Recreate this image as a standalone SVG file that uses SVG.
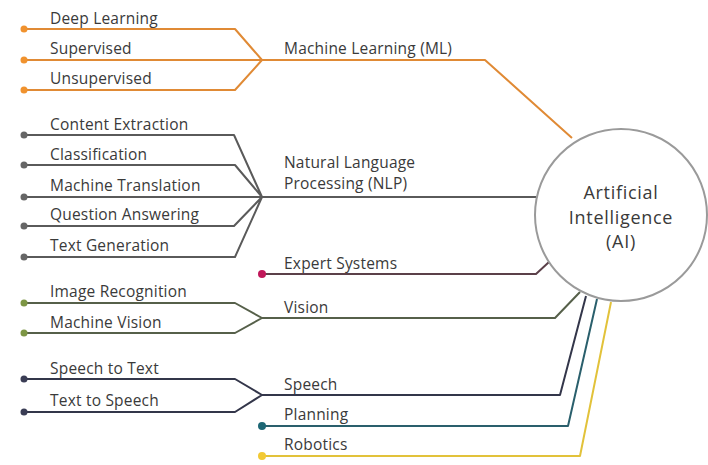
<svg xmlns="http://www.w3.org/2000/svg" width="708" height="465" viewBox="0 0 708 465">
<style>
text{font-family:"Open Sans","Noto Sans",sans-serif;font-size:15.5px;letter-spacing:0.2px;fill:#3a3a3a}
.c{fill:none;stroke-width:2;stroke-linejoin:round}
.ml{stroke:#e08a35}
.nlp{stroke:#5a5a5a}
.ex{stroke:#5b4049}
.vi{stroke:#56604a}
.sp{stroke:#33364a}
.pl{stroke:#2a5f6c}
.ro{stroke:#e2c23a}
.ai{font-size:18px;letter-spacing:0.7px;fill:#3a3a3a}
</style>
<rect width="708" height="465" fill="#ffffff"/>
<g id="connectors">
<path class="c ml" d="M24,29H235L262,60M24,60H262M24,90H235L262,60M262,60H485L572,138"/>
<path class="c nlp" d="M24,135H234L262,197M24,165H235L262,197M24,197H262M24,226H234L262,197M24,257H235L262,197M262,197H536"/>
<path class="c ex" d="M262,274H536L549,262"/>
<path class="c vi" d="M24,303H235L262,318M24,333H235L262,318M262,318H555L580,292"/>
<path class="c sp" d="M24,379H235L262,395M24,412H235L262,395M262,395H560L586,296"/>
<path class="c pl" d="M262,426H568L597,299"/>
<path class="c ro" d="M262,456H580L611,302"/>
</g>
<g id="leaf-dots">
<circle cx="24" cy="29" r="3.5" fill="#f0922e"/>
<circle cx="24" cy="60" r="3.5" fill="#f0922e"/>
<circle cx="24" cy="90" r="3.5" fill="#f0922e"/>
<circle cx="24" cy="135" r="3.5" fill="#666"/>
<circle cx="24" cy="165" r="3.5" fill="#666"/>
<circle cx="24" cy="197" r="3.5" fill="#666"/>
<circle cx="24" cy="226" r="3.5" fill="#666"/>
<circle cx="24" cy="257" r="3.5" fill="#666"/>
<circle cx="24" cy="303" r="3.5" fill="#7d9645"/>
<circle cx="24" cy="333" r="3.5" fill="#7d9645"/>
<circle cx="24" cy="379" r="3.5" fill="#3a3d55"/>
<circle cx="24" cy="412" r="3.5" fill="#3a3d55"/>
</g>
<g id="ml"><text x="284" y="54">Machine Learning (ML)</text></g>
<g id="deep-learning"><text x="50" y="24">Deep Learning</text></g>
<g id="supervised"><text x="50" y="54">Supervised</text></g>
<g id="unsupervised"><text x="50" y="84">Unsupervised</text></g>
<g id="nlp"><text x="284" y="168">Natural Language</text><text x="284" y="189">Processing (NLP)</text></g>
<g id="content-extraction"><text x="50" y="130">Content Extraction</text></g>
<g id="classification"><text x="50" y="160">Classification</text></g>
<g id="machine-translation"><text x="50" y="191">Machine Translation</text></g>
<g id="question-answering"><text x="50" y="220">Question Answering</text></g>
<g id="text-generation"><text x="50" y="251">Text Generation</text></g>
<g id="expert-systems"><circle cx="262" cy="274" r="4" fill="#c0185a"/><text x="284" y="269">Expert Systems</text></g>
<g id="vision"><text x="284" y="313">Vision</text></g>
<g id="image-recognition"><text x="50" y="297">Image Recognition</text></g>
<g id="machine-vision"><text x="50" y="328">Machine Vision</text></g>
<g id="speech"><text x="284" y="390">Speech</text></g>
<g id="speech-to-text"><text x="50" y="374">Speech to Text</text></g>
<g id="text-to-speech"><text x="50" y="406">Text to Speech</text></g>
<g id="planning"><circle cx="262" cy="426" r="4" fill="#1d6775"/><text x="284" y="420">Planning</text></g>
<g id="robotics"><circle cx="262" cy="456" r="4" fill="#f2c934"/><text x="284" y="450">Robotics</text></g>
<g id="ai">
<circle cx="621" cy="215" r="86" fill="#ffffff" stroke="#9a9a9a" stroke-width="2"/>
<text class="ai" x="621" y="199" text-anchor="middle">Artificial</text>
<text class="ai" x="621" y="223.5" text-anchor="middle">Intelligence</text>
<text class="ai" x="621" y="248" text-anchor="middle">(AI)</text>
</g>
</svg>
